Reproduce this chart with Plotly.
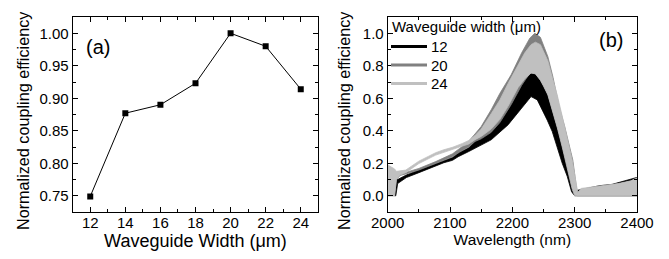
import plotly.graph_objects as go

# ---------------- (a) data ----------------
widths = [12, 14, 16, 18, 20, 22, 24]
norm_eff = [0.749, 0.877, 0.890, 0.923, 1.000, 0.980, 0.914]

# ---------------- (b) data: fringe envelopes (lower / upper) ----------------
wl_12 = [2000, 2006, 2011, 2013, 2016, 2030, 2050, 2077, 2090, 2104, 2113, 2130, 2140, 2166, 2193, 2209,
         2219, 2230, 2240, 2248, 2256, 2264, 2272, 2280, 2288, 2295, 2300, 2320, 2340, 2360, 2380, 2400]
lo_12 = [0.10, 0.08, 0.0, 0.0, 0.075, 0.112, 0.142, 0.182, 0.203, 0.218, 0.24, 0.272, 0.29, 0.344, 0.436, 0.51,
         0.559, 0.61, 0.59, 0.53, 0.465, 0.395, 0.295, 0.20, 0.12, 0.025, 0.0, 0.0, 0.0, 0.0, 0.0, 0.0]
hi_12 = [0.15, 0.13, 0.12, 0.10, 0.10, 0.128, 0.158, 0.198, 0.218, 0.235, 0.262, 0.295, 0.334, 0.39, 0.529, 0.652,
         0.71, 0.754, 0.75, 0.70, 0.64, 0.54, 0.44, 0.32, 0.20, 0.08, 0.03, 0.045, 0.062, 0.07, 0.09, 0.113]

wl_20 = [2000, 2006, 2011, 2014, 2020, 2030, 2050, 2077, 2090, 2104, 2115, 2130, 2140, 2150, 2166, 2180,
         2198, 2215, 2228, 2236, 2245, 2257, 2265, 2275, 2284, 2297, 2304, 2320, 2350, 2380, 2400]
lo_20 = [0.0, 0.0, 0.0, 0.10, 0.125, 0.135, 0.158, 0.198, 0.218, 0.24, 0.268, 0.30, 0.334, 0.35, 0.39, 0.45,
         0.56, 0.68, 0.754, 0.756, 0.715, 0.625, 0.52, 0.39, 0.26, 0.05, 0.0, 0.0, 0.0, 0.0, 0.0]
hi_20 = [0.17, 0.16, 0.15, 0.14, 0.14, 0.145, 0.168, 0.21, 0.232, 0.258, 0.29, 0.335, 0.38, 0.426, 0.529, 0.63,
         0.744, 0.88, 0.97, 1.0, 0.975, 0.856, 0.733, 0.55, 0.426, 0.22, 0.02, 0.045, 0.06, 0.08, 0.10]

wl_24 = [2000, 2004, 2008, 2011, 2014, 2020, 2029, 2050, 2077, 2090, 2104, 2120, 2130, 2140, 2150, 2166,
         2180, 2193, 2209, 2220, 2230, 2237, 2245, 2250, 2257, 2265, 2272, 2280, 2288, 2296, 2300, 2305,
         2310, 2330, 2350, 2370, 2390, 2400]
lo_24 = [0.0, 0.0, 0.0, 0.0, 0.10, 0.128, 0.142, 0.198, 0.25, 0.268, 0.284, 0.306, 0.318, 0.345, 0.365, 0.41,
         0.47, 0.55, 0.665, 0.72, 0.756, 0.75, 0.71, 0.675, 0.62, 0.52, 0.42, 0.30, 0.18, 0.04, 0.0, 0.0,
         0.0, 0.0, 0.0, 0.0, 0.0, 0.0]
hi_24 = [0.19, 0.18, 0.17, 0.165, 0.15, 0.155, 0.158, 0.213, 0.265, 0.283, 0.298, 0.322, 0.34, 0.37, 0.41, 0.505,
         0.59, 0.69, 0.80, 0.88, 0.93, 0.945, 0.93, 0.89, 0.83, 0.715, 0.62, 0.49, 0.36, 0.22, 0.13, 0.02,
         0.045, 0.055, 0.065, 0.075, 0.092, 0.11]

series_names = ["12", "20", "24"]
series_colors = ["#000000", "#808080", "#c0c0c0"]

FONT = "Liberation Sans, Arial, Helvetica, sans-serif"
W, H = 669, 259
OFF = 8                      # page body margin offset of the plot div
MT = 17 - OFF                # plot top at window y = 17
MB = H - (212 - OFF)         # plot bottom at window y = 212


def px(x):
    """window pixel x -> paper fraction"""
    return (x - OFF) / W


def py(y):
    """window pixel y -> paper fraction"""
    return (212 - y) / (H - MT - MB)


fig = go.Figure()

# (a)
fig.add_trace(go.Scatter(x=widths, y=norm_eff, mode="lines+markers",
                         line=dict(color="black", width=1),
                         marker=dict(symbol="square", size=6, color="black"),
                         xaxis="x", yaxis="y", showlegend=False))

# (b) bands
for wl, lo, hi, col in [(wl_12, lo_12, hi_12, series_colors[0]),
                        (wl_20, lo_20, hi_20, series_colors[1]),
                        (wl_24, lo_24, hi_24, series_colors[2])]:
    fig.add_trace(go.Scatter(x=list(wl) + list(wl)[::-1], y=list(hi) + list(lo)[::-1],
                             mode="lines", fill="toself", fillcolor=col,
                             line=dict(color=col, width=0.8),
                             xaxis="x2", yaxis="y2", showlegend=False, hoverinfo="skip"))

axis_common = dict(showline=True, linecolor="black", linewidth=1, mirror="allticks",
                   ticks="inside", ticklen=5, tickwidth=1, tickcolor="black",
                   showgrid=False, zeroline=False, automargin=False,
                   tickfont=dict(family=FONT, size=15, color="black"))

fig.update_layout(
    width=W, height=H,
    margin=dict(l=0, r=0, t=MT, b=MB, autoexpand=False),
    paper_bgcolor="white", plot_bgcolor="white",
    font=dict(family=FONT, color="black"),
    xaxis=dict(domain=[px(72.7), px(318.3)], range=[11, 25], dtick=2, tick0=0, ticklabelstandoff=-3,
               minor=dict(dtick=1, ticks="inside", ticklen=3, tickcolor="black"),
               title=dict(text="Waveguide Width (\u03bcm)", font=dict(family=FONT, size=18), standoff=0),
               anchor="y", **axis_common),
    yaxis=dict(domain=[0, 1], range=[0.725, 1.025], dtick=0.05, tick0=0, tickformat=".2f",
               minor=dict(dtick=0.025, ticks="inside", ticklen=3, tickcolor="black"),
               anchor="x", **axis_common),
    xaxis2=dict(domain=[px(387.7), px(637)], range=[2000, 2400], dtick=100, tick0=0, ticklabelstandoff=-3,
                minor=dict(dtick=50, ticks="inside", ticklen=3, tickcolor="black"),
                title=dict(text="Wavelength (nm)", font=dict(family=FONT, size=15.5), standoff=2),
                anchor="y2", **axis_common),
    yaxis2=dict(domain=[0, 1], range=[-0.1, 1.1], dtick=0.2, tick0=0, tickformat=".1f",
                minor=dict(dtick=0.1, ticks="inside", ticklen=3, tickcolor="black"),
                anchor="x2", **axis_common),
)

annotations = [
    # y-axis titles
    dict(text="Normalized coupling efficiency", x=px(23), y=py(121), xref="paper", yref="paper",
         xanchor="center", yanchor="middle", textangle=-90, showarrow=False,
         font=dict(family=FONT, size=16.2, color="black")),
    dict(text="Normalized coupling efficiency", x=px(344), y=py(121), xref="paper", yref="paper",
         xanchor="center", yanchor="middle", textangle=-90, showarrow=False,
         font=dict(family=FONT, size=16.2, color="black")),
    # panel labels
    dict(text="(a)", x=px(84), y=py(47), xref="paper", yref="paper", xanchor="left", yanchor="middle",
         showarrow=False, font=dict(family=FONT, size=20, color="black")),
    dict(text="(b)", x=px(597), y=py(40), xref="paper", yref="paper", xanchor="left", yanchor="middle",
         showarrow=False, font=dict(family=FONT, size=20, color="black")),
    # legend title
    dict(text="Waveguide width (\u03bcm)", x=px(390), y=py(26.5), xref="paper", yref="paper",
         xanchor="left", yanchor="middle", showarrow=False, font=dict(family=FONT, size=15, color="black")),
]
shapes = []
legend_y = [46.5, 65, 83.5]
for name, col, yy in zip(series_names, series_colors, legend_y):
    shapes.append(dict(type="line", xref="paper", yref="paper", x0=px(391), x1=px(427), y0=py(yy), y1=py(yy),
                       line=dict(color=col, width=2.8)))
    annotations.append(dict(text=name, x=px(429), y=py(yy), xref="paper", yref="paper", xanchor="left",
                            yanchor="middle", showarrow=False, font=dict(family=FONT, size=15, color="black")))

fig.update_layout(annotations=annotations, shapes=shapes)

fig.write_html("out.html")
